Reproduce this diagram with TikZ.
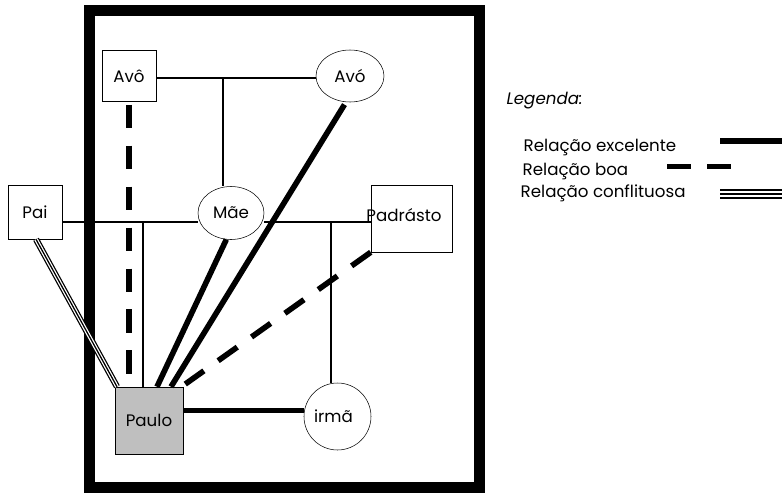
\documentclass[tikz,border=0pt]{standalone}
\usepackage{fontspec}
\setmainfont{Poppins}
\usetikzlibrary{shapes.geometric, positioning}

\begin{document}
\begin{tikzpicture}[
  x=0.75pt, y=-0.75pt,
  font=\fontsize{12.5}{14}\selectfont,
  homem/.style={draw, thin, rectangle, inner sep=0pt, minimum width=40.5pt, minimum height=38.25pt},
  mulher/.style={draw, thin, ellipse, inner sep=0pt, minimum width=51pt, minimum height=39pt},
  laco/.style={draw, line width=0.9pt},
  excelente/.style={draw, line width=4.2pt},
  boa/.style={draw, line width=4.2pt, dash pattern=on 17.6pt off 13.1pt},
  conflito/.style={draw, double, double distance=2.8pt, line width=0.95pt, postaction={draw, line width=0.95pt}}
  ]
  \useasboundingbox (0,0) rectangle (782,493);

  % moldura da familia
  \draw[line width=8.25pt] (89,10) rectangle (479,487);

  % pessoas
  \node[homem] (avo) at (129,76) {Avô};
  \node[mulher] (avoh) at (350,76) {Avó};
  \node[mulher, minimum width=49.5pt, minimum height=39.75pt] (mae) at (231,213) {Mãe};
  \node[homem, minimum height=40.5pt] (pai) at (35,212) {Pai};
  \node[homem, minimum width=60.75pt, minimum height=50.25pt] (padrasto) at (411.5,218.5) {};
  \node (padrastoTxt) at (404,215) {Padrásto};
  \node[homem, fill=black!25, minimum width=51pt, minimum height=50.25pt] (paulo) at (149,420.5) {Paulo};
  \node[mulher, minimum width=50.25pt, minimum height=50.25pt] (irma) at (337.5,416.5) {\hspace*{-6pt}irmã};

  % uniões
  \coordinate (casal1) at (223,78);
  \coordinate (casal2) at (143,222);
  \coordinate (casal3) at (331,222);
  \draw[laco] (avo.east |- casal1) -- (avoh.west |- casal1);
  \draw[laco] (casal1) -- (casal1 |- mae.north);
  \draw[laco] (pai.east |- casal2) -- (mae.west |- casal2);
  \draw[laco] (mae.east |- casal2) -- (padrasto.west |- casal2);
  \draw[laco] (casal2) -- (casal2 |- paulo.north);
  \draw[laco] (casal3) -- (casal3 |- irma.north);

  % relações
  \draw[boa] ([yshift=-2.25pt]avo.south) -- (avo.south |- paulo.north);
  \draw[excelente] (mae.-100) -- ([xshift=6pt]paulo.north);
  \draw[excelente] ([yshift=-2pt]avoh.-102) -- ([xshift=16.5pt]paulo.north);
  \draw[boa] (padrasto.south west) -- ([xshift=1.5pt,yshift=2pt]paulo.north east);
  \draw[excelente] ([yshift=7.5pt]paulo.east) -- ([yshift=7.5pt]paulo.east -| irma.west);
  \draw[conflito] ([xshift=0.75pt]pai.south) -- ([xshift=-24pt]paulo.north);

  % legenda
  \node[anchor=base west, font=\fontsize{12.5}{14}\selectfont\itshape] (legenda) at (502,104) {Legenda:};
  \node[anchor=base west] (leg1) at (519,151) {Relação excelente};
  \node[anchor=base west] (leg2) at (518,175) {Relação boa};
  \node[anchor=base west] (leg3) at (516,197.5) {Relação conflituosa};
  \draw[excelente] (720,141) -- (782,141);
  \draw[line width=4.2pt] (667,166.5) -- (691,166.5) (707,166.5) -- (731,166.5);
  \draw[conflito, line width=1.2pt, double distance=4.5pt] (720,194) -- (782,194);
\end{tikzpicture}
\end{document}
